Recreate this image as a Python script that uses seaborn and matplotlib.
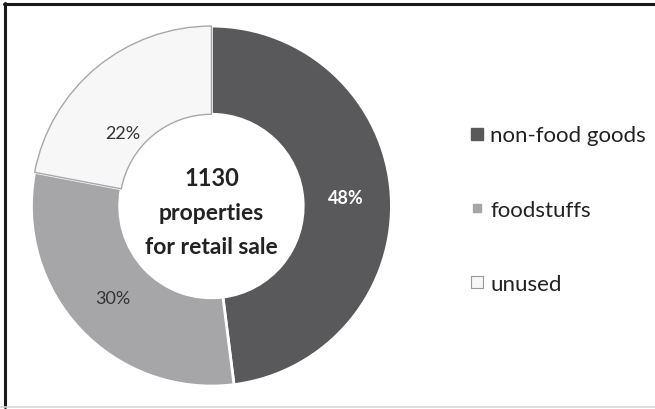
import matplotlib
matplotlib.use("Agg")
import numpy as np
import matplotlib.pyplot as plt
from matplotlib.lines import Line2D
import seaborn as sns

categories = ["non-food goods", "foodstuffs", "unused"]
shares = [48, 30, 22]
colors = ["#59595b", "#a6a6a9", "#f7f7f7"]
center_count = 1130
center_lines = ["properties", "for retail sale"]

sns.set_theme(style="white")
plt.rcParams["font.family"] = ["Lato", "DejaVu Sans"]

fig = plt.figure(figsize=(6.55, 4.10), dpi=100)
ax = fig.add_axes([0.048, 0.056, 0.5496, 0.878])

wedges, texts, autotexts = ax.pie(
    shares,
    colors=colors,
    startangle=90,
    counterclock=False,
    radius=1.0,
    autopct="%d%%",
    pctdistance=0.75,
    wedgeprops=dict(width=0.49, edgecolor="white", linewidth=2),
    textprops=dict(fontsize=13, color="#333333"),
)
wedges[2].set_edgecolor("#a8a8a8")
wedges[2].set_linewidth(1.0)
autotexts[0].set_color("white")
autotexts[0].set_fontweight("bold")

# the small "unused" label sits a little lower, nearer the hole
w = wedges[2]
mid = np.deg2rad((w.theta1 + w.theta2) / 2 + 11)
autotexts[2].set_position((0.64 * np.cos(mid), 0.64 * np.sin(mid)))

ax.set_xlim(-1.0, 1.0)
ax.set_ylim(-1.0, 1.0)
ax.set_aspect("equal")
ax.axis("off")

ax.text(0, 0.16, f"{center_count}", ha="center", va="center",
        fontsize=17, fontweight="bold", color="#222222")
ax.text(0, -0.035, center_lines[0], ha="center", va="center",
        fontsize=16.5, fontweight="bold", color="#222222")
ax.text(0, -0.225, center_lines[1], ha="center", va="center",
        fontsize=16.5, fontweight="bold", color="#222222")

handles = [
    Line2D([], [], marker="s", linestyle="none", markersize=9,
           markerfacecolor=colors[0], markeredgecolor=colors[0]),
    Line2D([], [], marker="s", linestyle="none", markersize=6,
           markerfacecolor=colors[1], markeredgecolor=colors[1]),
    Line2D([], [], marker="s", linestyle="none", markersize=9,
           markerfacecolor=colors[2], markeredgecolor="#9a9a9a",
           markeredgewidth=0.8),
]
fig.legend(handles, categories, loc="upper left",
           bbox_to_anchor=(0.718, 0.692), frameon=False, borderaxespad=0,
           borderpad=0, fontsize=16, labelspacing=2.45, handlelength=0.6,
           handletextpad=0.3, labelcolor="#222222")

# frame around the figure: dark top and left, faint bottom
fig.add_artist(Line2D([0.007, 0.007], [0.005, 0.99], transform=fig.transFigure,
                      color="#1a1a1a", linewidth=2.2))
fig.add_artist(Line2D([0.006, 1.0], [0.988, 0.988], transform=fig.transFigure,
                      color="#1a1a1a", linewidth=2.2))
fig.add_artist(Line2D([0.0, 1.0], [0.004, 0.004], transform=fig.transFigure,
                      color="#d8d8d8", linewidth=1.2))

fig.savefig("out.png", dpi=100)
